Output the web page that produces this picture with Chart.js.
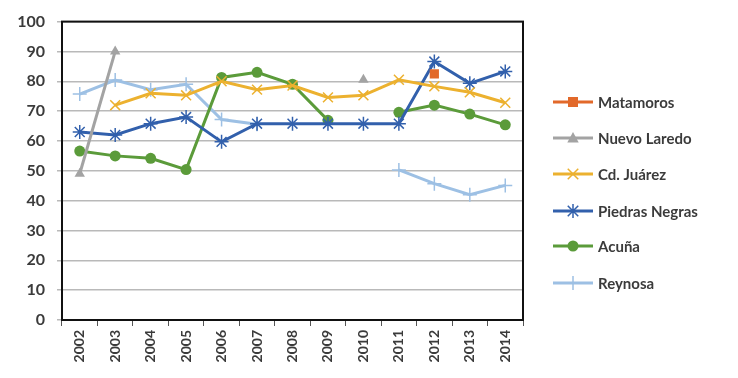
<!DOCTYPE html>
<html><head><meta charset="utf-8">
<script src="https://cdn.jsdelivr.net/npm/chart.js@4/dist/chart.umd.min.js"></script>
<style>html,body{margin:0;padding:0;background:#fff}#wrap{width:738px;height:378px}</style>
</head><body><div id="wrap"><canvas id="c" width="738" height="378"></canvas></div>
<script>
const years = ['2002','2003','2004','2005','2006','2007','2008','2009','2010','2011','2012','2013','2014'];
const yTicks = [0,10,20,30,40,50,60,70,80,90,100];
const matamoros     = [null,null,null,null,null,null,null,null,null,null,82.5,null,null];
const nuevoLaredo   = [49,90,null,null,null,null,null,null,80.5,null,null,null,null];
const cdJuarez      = [null,72,76,75.3,80,77.2,78.6,74.6,75.3,80.5,78.3,76.3,72.8];
const piedrasNegras = [63,62,65.8,68,59.7,65.8,65.8,65.8,65.8,65.8,86.6,79.3,83.3];
const acuna         = [56.6,55,54.2,50.4,81.3,83,79,66.9,null,69.6,72,69,65.4];
const reynosa       = [75.7,80.4,77.2,79,67.2,65.6,null,null,null,50.3,45.7,42,45.1];

const series = [
  {label:'Matamoros', data:matamoros, color:'#E2692A', style:'rect', r:6.5, lr:5},
  {label:'Nuevo Laredo', data:nuevoLaredo, color:'#A3A3A3', style:'triangle', r:6, lr:6},
  {label:'Cd. Juárez', data:cdJuarez, color:'#ECB12F', style:'crossRot', r:7, lr:7},
  {label:'Piedras Negras', data:piedrasNegras, color:'#3260AC', style:'star', r:7, lr:7},
  {label:'Acuña', data:acuna, color:'#5B9B3A', style:'circle', r:5.5, lr:5.5},
  {label:'Reynosa', data:reynosa, color:'#9DC0E4', style:'cross', r:7, lr:7}
];

function drawMarker(ctx, style, x, y, r, color){
  ctx.save();
  ctx.fillStyle = color; ctx.strokeStyle = color; ctx.lineWidth = 1.5;
  ctx.beginPath();
  if(style==='rect'){ ctx.fillRect(x-r,y-r,2*r,2*r); }
  else if(style==='circle'){ ctx.arc(x,y,r,0,Math.PI*2); ctx.fill(); }
  else if(style==='triangle'){ ctx.moveTo(x,y-r); ctx.lineTo(x+r*0.95,y+r*0.75); ctx.lineTo(x-r*0.95,y+r*0.75); ctx.closePath(); ctx.fill(); }
  else if(style==='crossRot'){ const d=r*0.75; ctx.moveTo(x-d,y-d); ctx.lineTo(x+d,y+d); ctx.moveTo(x+d,y-d); ctx.lineTo(x-d,y+d); ctx.stroke(); }
  else if(style==='cross'){ ctx.moveTo(x-r,y); ctx.lineTo(x+r,y); ctx.moveTo(x,y-r); ctx.lineTo(x,y+r); ctx.stroke(); }
  else if(style==='star'){ const d=r*0.75; ctx.moveTo(x-d,y-d); ctx.lineTo(x+d,y+d); ctx.moveTo(x+d,y-d); ctx.lineTo(x-d,y+d); ctx.moveTo(x,y-r); ctx.lineTo(x,y+r); ctx.stroke(); }
  ctx.restore();
}

const frameAndLegend = {
  id:'frameAndLegend',
  afterDraw(chart){
    const ctx = chart.ctx, a = chart.chartArea;
    ctx.save();
    ctx.strokeStyle = '#111'; ctx.lineWidth = 2;
    ctx.strokeRect(a.left, a.top, a.right-a.left, a.bottom-a.top);
    const lx0 = 553, lx1 = 593, tx = 598;
    const ys = [102,138,174,211,246,283];
    ctx.font = 'bold 15px Lato, "Open Sans", sans-serif';
    ctx.textBaseline = 'middle';
    series.forEach((s,i)=>{
      const y = ys[i];
      ctx.strokeStyle = s.color; ctx.lineWidth = 3;
      ctx.beginPath(); ctx.moveTo(lx0,y); ctx.lineTo(lx1,y); ctx.stroke();
      drawMarker(ctx, s.style, (lx0+lx1)/2, y, s.lr, s.color);
      ctx.fillStyle = '#3b3b3b';
      ctx.fillText(s.label, tx, y+1);
    });
    ctx.restore();
  }
};

new Chart(document.getElementById('c'), {
  type:'line',
  data:{
    labels: years,
    datasets: series.map(s=>({
      label:s.label, data:s.data,
      borderColor:s.color, backgroundColor:s.color,
      borderWidth:3, pointStyle:s.style, pointRadius:s.r,
      pointBorderWidth:(s.style==='circle'||s.style==='rect'||s.style==='triangle')?0:1.5,
      pointBorderColor:s.color, pointBackgroundColor:s.color,
      spanGaps:false, tension:0
    }))
  },
  options:{
    responsive:false, animation:false,
    layout:{padding:{top:17,right:215,left:0,bottom:0}},
    plugins:{legend:{display:false}, tooltip:{enabled:false}},
    scales:{
      x:{
        offset:true,
        grid:{display:true, drawOnChartArea:false, drawTicks:true, tickLength:6, offset:true, color:'#555', lineWidth:1},
        border:{display:true, color:'#111', width:2},
        ticks:{minRotation:90, maxRotation:90, autoSkip:false, padding:4, color:'#3b3b3b', font:{family:'Lato, "Open Sans", sans-serif', size:14, weight:'bold'}},
        afterFit(s){ s.height = 58; }
      },
      y:{
        min:0, max:100,
        afterBuildTicks(s){ s.ticks = yTicks.map(v=>({value:v})); },
        grid:{color:'#B9B9B9', lineWidth:1.5, tickLength:5, drawTicks:true},
        border:{display:true, color:'#111', width:2},
        ticks:{padding:12, color:'#3b3b3b', font:{family:'Lato, "Open Sans", sans-serif', size:16, weight:'bold'}},
        afterFit(s){ s.width = 62; }
      }
    }
  },
  plugins:[frameAndLegend]
});
</script>
</body></html>
